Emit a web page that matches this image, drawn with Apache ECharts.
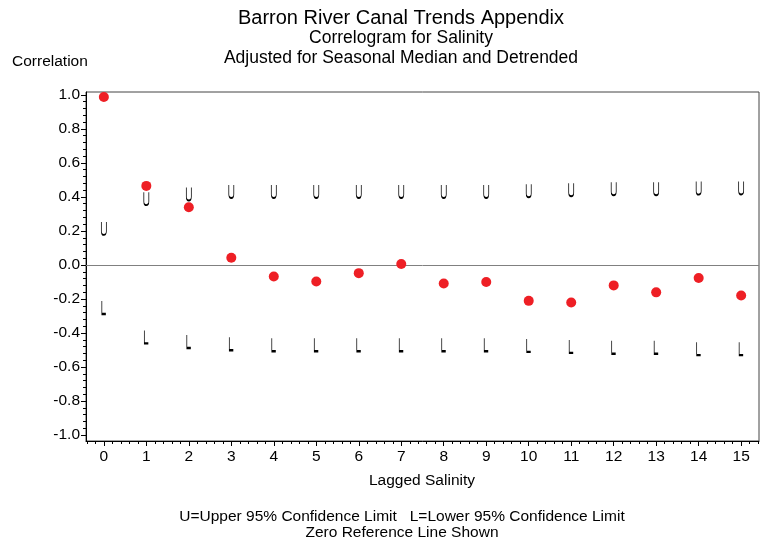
<!DOCTYPE html>
<html>
<head>
<meta charset="utf-8">
<script src="https://cdn.jsdelivr.net/npm/echarts@6/dist/echarts.min.js"></script>
<style>
html,body{margin:0;padding:0;background:#fff;}
#chart{width:769px;height:544px;}
</style>
</head>
<body>
<div id="chart"></div>
<script>
// ---- data ----
var lags = [0,1,2,3,4,5,6,7,8,9,10,11,12,13,14,15];
var correlation = [0.988,0.465,0.339,0.042,-0.068,-0.097,-0.048,0.006,-0.109,-0.100,-0.211,-0.221,-0.120,-0.161,-0.077,-0.180];
var upperLimit = [0.215,0.390,0.417,0.432,0.432,0.432,0.432,0.432,0.432,0.432,0.436,0.442,0.448,0.448,0.452,0.453];
var lowerLimit = [-0.250,-0.423,-0.450,-0.463,-0.469,-0.469,-0.469,-0.469,-0.469,-0.469,-0.473,-0.479,-0.484,-0.484,-0.492,-0.492];
var xTickLabels = [0,1,2,3,4,5,6,7,8,9,10,11,12,13,14,15];
var yTickLabels = [-1.0,-0.8,-0.6,-0.4,-0.2,0.0,0.2,0.4,0.6,0.8,1.0];

// minor tick positions (5 subdivisions per major step)
var xMinorTicks = [];
for (var i = -2; i <= 77; i++) xMinorTicks.push(+(i * 0.2).toFixed(2));
var yMinorTicks = [];
for (var j = -25; j <= 25; j++) yMinorTicks.push(+(j * 0.04).toFixed(2));

var FONT = 'Liberation Sans, Arial, sans-serif';

function pairs(ys) { return lags.map(function (x, k) { return [x, ys[k]]; }); }

var chart = echarts.init(document.getElementById('chart'), null, {renderer: 'canvas'});

var xMin = -0.42, xMax = 15.42, yMin = -1.035, yMax = 1.017;

var option = {
  animation: false,
  backgroundColor: '#fff',
  grid: {left: 86, right: 10, top: 92, bottom: 103, show: true, borderColor: '#444', borderWidth: 1, backgroundColor: 'transparent'},
  xAxis: [
    {
      type: 'value', min: xMin, max: xMax,
      axisLine: {show: true, onZero: false, lineStyle: {color: '#000', width: 1}},
      axisTick: {show: true, inside: false, length: 5, customValues: xTickLabels, lineStyle: {color: '#000'}},
      axisLabel: {show: true, customValues: xTickLabels, margin: 8, color: '#000', fontSize: 15.5, fontFamily: FONT},
      splitLine: {show: false}
    },
    {
      type: 'value', min: xMin, max: xMax, position: 'bottom',
      axisLine: {show: false, onZero: false},
      axisTick: {show: true, inside: false, length: 3, customValues: xMinorTicks, lineStyle: {color: '#000'}},
      axisLabel: {show: false},
      splitLine: {show: false}
    }
  ],
  yAxis: [
    {
      type: 'value', min: yMin, max: yMax,
      axisLine: {show: true, onZero: false, lineStyle: {color: '#000', width: 1}},
      axisTick: {show: true, inside: false, length: 5, customValues: yTickLabels, lineStyle: {color: '#000'}},
      axisLabel: {show: true, customValues: yTickLabels, margin: 6, color: '#000', fontSize: 15.5, fontFamily: FONT,
        formatter: function (v) { return v.toFixed(1); }},
      splitLine: {show: false}
    },
    {
      type: 'value', min: yMin, max: yMax, position: 'left',
      axisLine: {show: false, onZero: false},
      axisTick: {show: true, inside: false, length: 3, customValues: yMinorTicks, lineStyle: {color: '#000'}},
      axisLabel: {show: false},
      splitLine: {show: false}
    }
  ],
  series: [
    {
      name: 'Upper 95% Confidence Limit', type: 'scatter', data: pairs(upperLimit),
      symbol: 'path://M0,0 L0,10 Q0,14 2,14 Q4,14 4,10 L4,0',
      symbolSize: [5, 13], symbolKeepAspect: false,
      itemStyle: {color: 'rgba(0,0,0,0)', borderColor: '#000', borderWidth: 1.2, opacity: 1},
      z: 3, silent: true
    },
    {
      name: 'Lower 95% Confidence Limit', type: 'scatter', data: pairs(lowerLimit),
      symbol: 'path://M0,0 L0,14 L4,14',
      symbolSize: [4, 13], symbolKeepAspect: false,
      itemStyle: {color: 'rgba(0,0,0,0)', borderColor: '#000', borderWidth: 1.3, opacity: 1},
      z: 3, silent: true
    },
    {
      name: 'Correlation', type: 'scatter', data: pairs(correlation),
      symbol: 'circle', symbolSize: 10,
      itemStyle: {color: '#ee1f25', opacity: 1},
      z: 5, silent: true,
      markLine: {
        silent: true, symbol: ['none', 'none'], label: {show: false},
        lineStyle: {color: '#808080', width: 1, type: 'solid'},
        data: [{yAxis: 0}], z: 2
      }
    }
  ],
  graphic: [
    {type: 'text', x: 401, y: 18, style: {text: 'Barron River Canal Trends Appendix', font: '20px ' + FONT, fill: '#000', textAlign: 'center', textVerticalAlign: 'middle'}},
    {type: 'text', x: 401, y: 38, style: {text: 'Correlogram for Salinity', font: '17.5px ' + FONT, fill: '#000', textAlign: 'center', textVerticalAlign: 'middle'}},
    {type: 'text', x: 401, y: 58, style: {text: 'Adjusted for Seasonal Median and Detrended', font: '17.5px ' + FONT, fill: '#000', textAlign: 'center', textVerticalAlign: 'middle'}},
    {type: 'text', x: 12, y: 62, style: {text: 'Correlation', font: '15.5px ' + FONT, fill: '#000', textAlign: 'left', textVerticalAlign: 'middle'}},
    {type: 'text', x: 422, y: 481, style: {text: 'Lagged Salinity', font: '15.5px ' + FONT, fill: '#000', textAlign: 'center', textVerticalAlign: 'middle'}},
    {type: 'text', x: 402, y: 517, style: {text: 'U=Upper 95% Confidence Limit   L=Lower 95% Confidence Limit', font: '15.5px ' + FONT, fill: '#000', textAlign: 'center', textVerticalAlign: 'middle'}},
    {type: 'text', x: 402, y: 533, style: {text: 'Zero Reference Line Shown', font: '15.5px ' + FONT, fill: '#000', textAlign: 'center', textVerticalAlign: 'middle'}}
  ]
};
chart.setOption(option);
</script>
</body>
</html>
